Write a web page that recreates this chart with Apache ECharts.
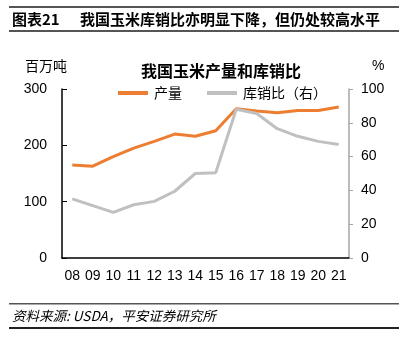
<!DOCTYPE html>
<html>
<head>
    <meta charset="UTF-8">
    <title>我国玉米产量和库销比</title>
    <script src="https://cdn.jsdelivr.net/npm/echarts@6/dist/echarts.min.js"></script>
    <style type="text/css">
        html, body { margin: 0; padding: 0; background: #fff; }
        #main { width: 408px; height: 350px; }
    </style>
</head>
<body>
<div id="main"></div>
<script type="text/javascript">
    // 年份
    var years = ['08', '09', '10', '11', '12', '13', '14', '15', '16', '17', '18', '19', '20', '21'];
    // 产量（百万吨）
    var output = [165, 163, 180, 195, 207, 220, 216, 226, 265, 261, 258, 262, 262, 268];
    // 库销比（%）
    var stockRatio = [35, 31, 27, 31.5, 33.5, 39.5, 50, 50.5, 88, 85.5, 76.5, 72, 69, 67.2];

    var cjk = '"Noto Sans CJK SC", "Liberation Sans", sans-serif';
    var num = '"Liberation Sans", Arial, sans-serif';

    var myChart = echarts.init(document.getElementById('main'));
    var option = {
        animation: false,
        title: {
            text: '我国玉米产量和库销比',
            left: 216,
            textAlign: 'center',
            top: 58,
            textStyle: { fontFamily: cjk, fontSize: 16, fontWeight: 'bold', color: '#000' }
        },
        legend: {
            top: 81,
            left: 113,
            itemWidth: 30,
            itemHeight: 4,
            itemGap: 25,
            textStyle: { fontFamily: cjk, fontSize: 14, color: '#000', padding: [0, 0, 0, 1] },
            data: [
                { name: '产量', icon: 'rect' },
                { name: '库销比（右）', icon: 'rect' }
            ]
        },
        grid: { left: 62, right: 59, top: 89, bottom: 92 },
        xAxis: {
            type: 'category',
            data: years,
            boundaryGap: true,
            axisLine: { lineStyle: { color: '#000', width: 1.5 } },
            axisTick: { inside: true, length: 5, lineStyle: { color: '#000' } },
            axisLabel: { fontFamily: num, fontSize: 14, color: '#000', margin: 11, interval: 0 }
        },
        yAxis: [
            {
                type: 'value', min: 0, max: 300, interval: 100,
                axisLine: { show: true, lineStyle: { color: '#000', width: 1.5 } },
                axisTick: { show: true, inside: true, length: 5, lineStyle: { color: '#000' } },
                axisLabel: { fontFamily: num, fontSize: 14, color: '#000', margin: 15 },
                splitLine: { show: false }
            },
            {
                type: 'value', min: 0, max: 100, interval: 20,
                axisLine: { show: true, lineStyle: { color: '#a6a6a6', width: 1.5 } },
                axisTick: { show: true, length: 4, lineStyle: { color: '#a6a6a6' } },
                axisLabel: { fontFamily: num, fontSize: 14, color: '#000', margin: 12 },
                splitLine: { show: false }
            }
        ],
        series: [
            {
                name: '产量',
                type: 'line',
                yAxisIndex: 0,
                data: output,
                symbol: 'none',
                itemStyle: { color: '#ed7d31' },
                lineStyle: { color: '#ed7d31', width: 3 }
            },
            {
                name: '库销比（右）',
                type: 'line',
                yAxisIndex: 1,
                data: stockRatio,
                symbol: 'none',
                itemStyle: { color: '#c0c0c0' },
                lineStyle: { color: '#c0c0c0', width: 3 }
            }
        ],
        graphic: [
            // 图表标题栏
            { type: 'rect', shape: { x: 9, y: 6, width: 390, height: 2 }, style: { fill: '#555' } },
            { type: 'rect', shape: { x: 9, y: 30, width: 390, height: 2 }, style: { fill: '#555' } },
            { type: 'text', left: 12, top: 12, style: { text: '图表21', font: 'bold 15px ' + cjk, fill: '#000' } },
            { type: 'text', left: 80, top: 12, style: { text: '我国玉米库销比亦明显下降，但仍处较高水平', font: 'bold 15px ' + cjk, fill: '#000' } },
            // 坐标轴单位
            { type: 'text', left: 25, top: 59, style: { text: '百万吨', font: '14px ' + cjk, fill: '#000' } },
            { type: 'text', left: 372, top: 59, style: { text: '%', font: '14px ' + num, fill: '#000' } },
            // 资料来源
            { type: 'rect', shape: { x: 9, y: 303, width: 390, height: 1.5 }, style: { fill: '#555' } },
            { type: 'rect', shape: { x: 9, y: 327, width: 390, height: 2 }, style: { fill: '#222' } },
            { type: 'text', left: 12, top: 309, style: { text: '资料来源: USDA，平安证券研究所', font: 'italic 13.5px ' + cjk, fill: '#000' } }
        ]
    };
    myChart.setOption(option);
</script>
</body>
</html>
